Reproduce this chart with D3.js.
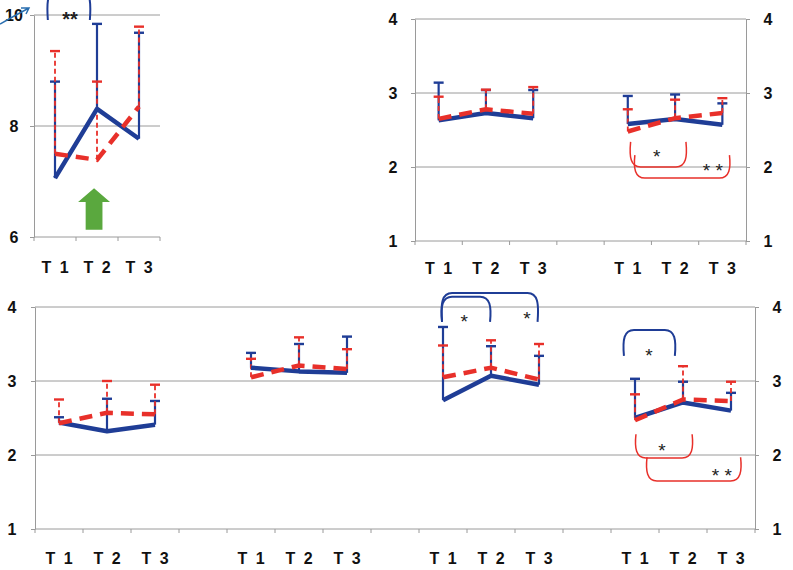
<!DOCTYPE html>
<html>
<head>
<meta charset="utf-8">
<script src="https://cdn.jsdelivr.net/npm/d3@7"></script>
<style>
  body { margin: 0; background: #fff; }
  svg text { font-family: "Liberation Sans", Arial, sans-serif; }
</style>
</head>
<body>
<svg id="chart" width="793" height="570"></svg>
<script>
const times = ["T 1", "T 2", "T 3"];

// panel A (top left), scale 6..10
const aTicks = [6, 8, 10];
const aBlue = [[7.06, 8.31, 7.77]];
const aBlueUp = [[8.80, 9.84, 9.68]];
const aRed = [[7.50, 7.39, 8.35]];
const aRedUp = [[9.35, 8.80, 9.79]];

// panel B (top right), two groups, scale 1..4
const bTicks = [1, 2, 3, 4];
const bBlue = [[2.63, 2.73, 2.66], [2.58, 2.65, 2.57]];
const bBlueUp = [[3.14, 3.04, 3.04], [2.96, 2.98, 2.86]];
const bRed = [[2.65, 2.78, 2.72], [2.48, 2.66, 2.73]];
const bRedUp = [[2.95, 3.045, 3.08], [2.78, 2.91, 2.93]];

// panel C (bottom), four groups, scale 1..4
const cTicks = [1, 2, 3, 4];
const cBlue = [[2.44, 2.32, 2.41], [3.18, 3.13, 3.11], [2.74, 3.07, 2.95], [2.50, 2.71, 2.60]];
const cBlueUp = [[2.51, 2.76, 2.73], [3.38, 3.50, 3.60], [3.73, 3.47, 3.34], [3.03, 2.99, 2.84]];
const cRed = [[2.43, 2.57, 2.55], [3.05, 3.21, 3.16], [3.05, 3.18, 3.02], [2.47, 2.75, 2.73]];
const cRedUp = [[2.75, 3.00, 2.95], [3.30, 3.59, 3.43], [3.48, 3.55, 3.50], [2.82, 3.20, 2.99]];

// significance brackets: group, span in time units (0 = T1), y of arm ends and bar
const brackets = [
  {panel: "A", group: 0, from: -0.17, to: 0.83, yArm: 9.91, yBar: 10.45, side: "blue", label: "**", lx: 0.36, ly: 10.0},
  {panel: "B", group: 1, from: 0.06, to: 1.23, yArm: 2.34, yBar: 2.0, side: "red", label: "*", lx: 0.61, ly: 2.2},
  {panel: "B", group: 1, from: 0.15, to: 2.15, yArm: 2.16, yBar: 1.85, side: "red", label: "* *", lx: 1.8, ly: 2.0},
  {panel: "C", group: 2, from: -0.02, to: 1.97, yArm: 3.8, yBar: 4.19, side: "blue", label: "*", lx: 1.75, ly: 3.9},
  {panel: "C", group: 2, from: -0.02, to: 0.98, yArm: 3.8, yBar: 4.14, side: "blue", label: "*", lx: 0.44, ly: 3.86},
  {panel: "C", group: 3, from: -0.23, to: 0.83, yArm: 3.34, yBar: 3.69, side: "blue", label: "*", lx: 0.29, ly: 3.4},
  {panel: "C", group: 3, from: 0.02, to: 1.19, yArm: 2.28, yBar: 1.96, side: "red", label: "*", lx: 0.56, ly: 2.12},
  {panel: "C", group: 3, from: 0.25, to: 2.2, yArm: 1.97, yBar: 1.65, side: "red", label: "* *", lx: 1.81, ly: 1.78}
];

const BLUE = "#1f3d96", RED = "#e8302a", GRID = "#9a9a9a";
const svg = d3.select("#chart");

function drawPanel(p) {
  const slots = [];
  for (let g = 0; g < p.blue.length; g++) {
    times.forEach((t, i) => slots.push({id: `g${g}t${i}`, label: t}));
    if (g < p.blue.length - 1) slots.push({id: `gap${g}`, label: ""});
  }
  const x = d3.scaleBand().domain(slots.map(s => s.id)).range([p.l, p.r]);
  const y = d3.scaleLinear().domain(p.domain).range([p.b, p.t]);
  const bw = x.bandwidth();
  const px = (g, t) => x(`g${g}t0`) + bw * (0.5 + t);
  const labelOf = new Map(slots.map(s => [s.id, s.label]));

  // grid
  svg.append("g").attr("stroke", GRID).attr("stroke-width", 1)
    .selectAll("line").data(p.ticks).join("line")
    .attr("x1", p.l).attr("x2", p.r)
    .attr("y1", d => y(d)).attr("y2", d => y(d));

  // y axes
  const styleAxis = (g, lx) => {
    g.select(".domain").attr("stroke", GRID);
    g.selectAll(".tick line").attr("stroke", GRID);
    g.selectAll(".tick text").attr("x", lx).attr("text-anchor", "middle")
      .attr("dy", "0.36em").attr("font-size", 16).style("font-weight", "bold").attr("fill", "#111");
  };
  svg.append("g").attr("transform", `translate(${p.l},0)`)
    .call(d3.axisLeft(y).tickValues(p.ticks).tickSize(4).tickSizeOuter(0).tickFormat(d3.format("d")))
    .call(g => styleAxis(g, p.labelL - p.l));
  if (p.labelR) {
    svg.append("g").attr("transform", `translate(${p.r},0)`)
      .call(d3.axisRight(y).tickValues(p.ticks).tickSize(4).tickSizeOuter(0).tickFormat(d3.format("d")))
      .call(g => styleAxis(g, p.labelR - p.r));
  }

  // x ticks at band edges
  const edges = slots.map(s => x(s.id)).concat([p.r]);
  svg.append("g").attr("stroke", GRID)
    .selectAll("line").data(edges).join("line")
    .attr("x1", d => d).attr("x2", d => d)
    .attr("y1", p.b).attr("y2", p.b + 4);

  // x labels
  const xa = svg.append("g").attr("transform", `translate(1,${p.labelY})`)
    .call(d3.axisBottom(x).tickSize(0).tickFormat(id => labelOf.get(id)));
  xa.select(".domain").remove();
  xa.selectAll("text").attr("y", 0).attr("dy", 0).attr("font-size", 16)
    .style("font-weight", "bold").attr("fill", "#111").style("letter-spacing", "2px");

  // error bars (upper half only)
  const errBars = (means, ups, color, dashed) => {
    means.forEach((grp, g) => grp.forEach((m, i) => {
      const cx = px(g, i);
      svg.append("line").attr("x1", cx).attr("x2", cx)
        .attr("y1", y(m)).attr("y2", y(ups[g][i]))
        .attr("stroke", color).attr("stroke-width", dashed ? 1.8 : 2.2)
        .attr("stroke-dasharray", dashed ? "5,3" : null);
      svg.append("line").attr("x1", cx - 5).attr("x2", cx + 5)
        .attr("y1", y(ups[g][i])).attr("y2", y(ups[g][i]))
        .attr("stroke", color).attr("stroke-width", 2.4);
    }));
  };
  errBars(p.blue, p.blueUp, BLUE, false);
  errBars(p.red, p.redUp, RED, true);

  // mean lines
  p.blue.forEach((grp, g) => {
    const line = d3.line().x((d, i) => px(g, i)).y(d => y(d));
    svg.append("path").attr("d", line(grp)).attr("fill", "none")
      .attr("stroke", BLUE).attr("stroke-width", 4.5).attr("stroke-linejoin", "round");
  });
  p.red.forEach((grp, g) => {
    const line = d3.line().x((d, i) => px(g, i)).y(d => y(d));
    svg.append("path").attr("d", line(grp)).attr("fill", "none")
      .attr("stroke", RED).attr("stroke-width", 4.5).attr("stroke-dasharray", "13,8");
  });

  // brackets
  brackets.filter(b => b.panel === p.name).forEach(b => {
    const x1 = px(b.group, b.from), x2 = px(b.group, b.to);
    const ya = y(b.yArm), yb = y(b.yBar);
    const r = Math.min(10, Math.abs(ya - yb) * 0.6);
    const s = yb < ya ? 1 : -1;
    const d = `M${x1},${ya} C${x1 - 1.5},${ya - s * (Math.abs(ya - yb) - r)} ${x1},${yb} ${x1 + r},${yb}` +
      ` L${x2 - r},${yb} C${x2},${yb} ${x2 + 1.5},${ya - s * (Math.abs(ya - yb) - r)} ${x2},${ya}`;
    svg.append("path").attr("d", d).attr("fill", "none")
      .attr("stroke", b.side === "blue" ? BLUE : RED).attr("stroke-width", b.side === "blue" ? 2 : 1.5);
    const fs = b.panel === "A" ? 20 : 19;
    svg.append("text").attr("x", px(b.group, b.lx)).attr("y", y(b.ly) + fs * 0.55)
      .attr("text-anchor", "middle").attr("font-size", fs)
      .style("font-weight", b.panel === "A" ? "bold" : "normal")
      .attr("fill", "#222").text(b.label);
  });

  return {x, y, px, bw};
}

const A = drawPanel({name: "A", l: 34, r: 160, t: 15, b: 237, domain: [6, 10], ticks: aTicks,
  labelL: 14, labelY: 273, blue: aBlue, blueUp: aBlueUp, red: aRed, redUp: aRedUp});
drawPanel({name: "B", l: 415, r: 746, t: 19, b: 241, domain: [1, 4], ticks: bTicks,
  labelL: 393, labelR: 768, labelY: 274, blue: bBlue, blueUp: bBlueUp, red: bRed, redUp: bRedUp});
drawPanel({name: "C", l: 35, r: 755, t: 307, b: 529, domain: [1, 4], ticks: cTicks,
  labelL: 12, labelR: 777, labelY: 564, blue: cBlue, blueUp: cBlueUp, red: cRed, redUp: cRedUp});

// green arrow under T2 of panel A
{
  const cx = A.px(0, 0.93), hw = A.bw * 0.38, sw = A.bw * 0.2;
  const tip = A.y(6.88), base = A.y(6.63), foot = A.y(6.13);
  svg.append("path")
    .attr("d", `M${cx},${tip} L${cx + hw},${base} L${cx + sw},${base} L${cx + sw},${foot} L${cx - sw},${foot} L${cx - sw},${base} L${cx - hw},${base} Z`)
    .attr("fill", "#5aa83e");
}

// hand-drawn pen stroke near the "10" label
svg.append("path").attr("d", "M0,24 Q14,16 29,8 M21,8 L29,8 L26,14")
  .attr("fill", "none").attr("stroke", "#2a6fb0").attr("stroke-width", 1.5);
</script>
</body>
</html>
